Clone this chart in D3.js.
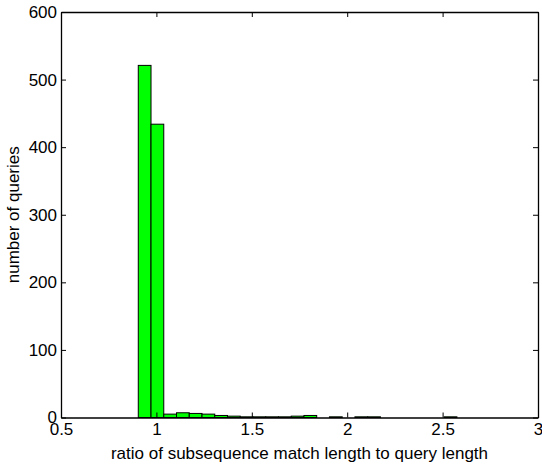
<!DOCTYPE html>
<html>
<head>
<meta charset="utf-8">
<script src="https://cdn.jsdelivr.net/npm/d3@7"></script>
<style>
body { margin: 0; background: #fff; }
svg { font-family: Arial, "Liberation Sans", sans-serif; }
</style>
</head>
<body>
<svg width="542" height="464"></svg>
<script>
// histogram: 25 bins from 0.905 to 2.575
var binStart = 0.905;
var binWidth = 0.0668;
var counts = [521, 434, 5, 7, 6, 5, 3, 2, 1, 1, 1, 1, 2, 3, 0, 1, 0, 1, 1, 0, 0, 0, 0, 0, 1];
var xTicks = [0.5, 1, 1.5, 2, 2.5, 3];
var yTicks = [0, 100, 200, 300, 400, 500, 600];

var svgctrl = d3.select('svg');
var pLeft = 61, pRight = 538, pTop = 12, pBottom = 417.5;
var fs = 17;

var x = d3.scaleLinear().domain([0.5, 3]).range([pLeft, pRight]);
var y = d3.scaleLinear().domain([0, 600]).range([pBottom, pTop]);

var bins = counts.map(function (c, i) {
    return { x0: binStart + i * binWidth, x1: binStart + (i + 1) * binWidth, n: c };
});

svgctrl.selectAll('rect.bar').data(bins).enter().append('rect')
    .attr('class', 'bar')
    .attr('x', function (d) { return x(d.x0); })
    .attr('y', function (d) { return y(d.n); })
    .attr('width', function (d) { return x(d.x1) - x(d.x0); })
    .attr('height', function (d) { return y(0) - y(d.n); })
    .attr('fill', '#00ff00')
    .attr('stroke', '#000')
    .attr('stroke-width', 1);

// axes box, ticks inward like matlab
var tl = 5;
var xb = d3.axisBottom(x).tickValues(xTicks).tickSizeInner(-tl).tickSizeOuter(0)
    .tickPadding(7).tickFormat(d3.format('~g'));
var xt = d3.axisTop(x).tickValues(xTicks).tickSizeInner(-tl).tickSizeOuter(0).tickFormat('');
var yl = d3.axisLeft(y).tickValues(yTicks).tickSizeInner(-tl).tickSizeOuter(0).tickPadding(4);
var yr = d3.axisRight(y).tickValues(yTicks).tickSizeInner(-tl).tickSizeOuter(0).tickFormat('');

var gxb = svgctrl.append('g').attr('transform', 'translate(0,' + pBottom + ')').call(xb);
var gxt = svgctrl.append('g').attr('transform', 'translate(0,' + pTop + ')').call(xt);
var gyl = svgctrl.append('g').attr('transform', 'translate(' + pLeft + ',0)').call(yl);
var gyr = svgctrl.append('g').attr('transform', 'translate(' + pRight + ',0)').call(yr);

[gxb, gxt, gyl, gyr].forEach(function (g) {
    g.selectAll('path').attr('stroke', '#000').attr('stroke-width', 1.3);
    g.selectAll('line').attr('stroke', '#000');
    g.selectAll('text').attr('font-size', fs).attr('fill', '#000')
        .attr('font-family', 'Arial, "Liberation Sans", sans-serif');
});
gxb.selectAll('text').attr('dy', '0.6em');

svgctrl.append('text').attr('x', (pLeft + pRight) / 2).attr('y', 459)
    .attr('text-anchor', 'middle').attr('font-size', fs)
    .text('ratio of subsequence match length to query length');

svgctrl.append('text').attr('transform', 'translate(19,' + (pTop + pBottom) / 2 + ') rotate(-90)')
    .attr('text-anchor', 'middle').attr('font-size', fs)
    .text('number of queries');
</script>
</body>
</html>
